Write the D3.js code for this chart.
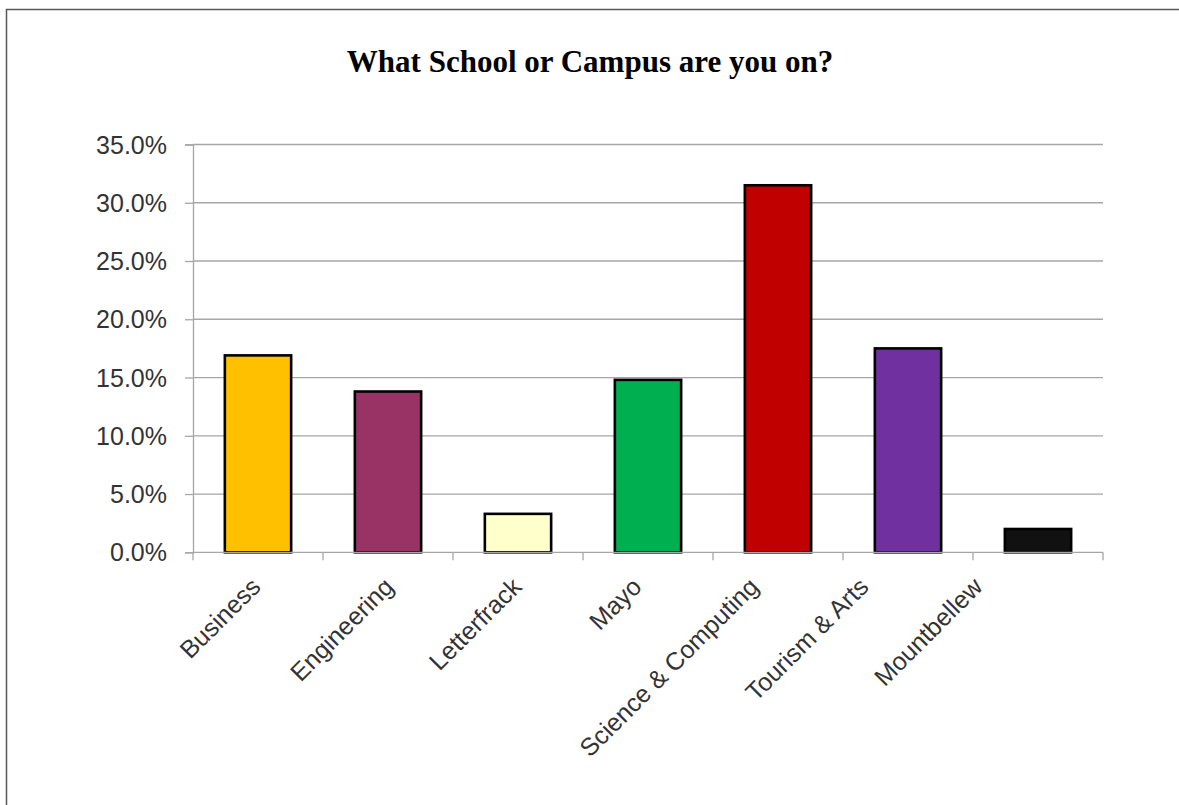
<!DOCTYPE html>
<html>
<head>
<meta charset="utf-8">
<script src="https://cdn.jsdelivr.net/npm/d3@7"></script>
<style>
  html, body { margin: 0; padding: 0; background: #fff; }
  svg { display: block; }
</style>
</head>
<body>
<svg id="chart" width="1179" height="805"></svg>
<script>
// Survey responses: share of respondents by school / campus (percent)
const categories = ["Business", "Engineering", "Letterfrack", "Mayo", "Science & Computing", "Tourism & Arts", "Mountbellew"];
const shares = [16.9, 13.8, 3.3, 14.8, 31.5, 17.5, 2.0];
const barColors = ["#FFC000", "#993366", "#FFFFCC", "#00B050", "#C00000", "#7030A0", "#111111"];
const yTicks = [0, 5, 10, 15, 20, 25, 30, 35];
const title = "What School or Campus are you on?";

// horizontal nudge (px) of each rotated category label's end point from its bar centre
const labelNudge = [4, 7, 5, -5, -18, -38, -54];

const svg = d3.select("#chart");
const W = 1179, H = 805;

// outer chart frame
svg.append("rect")
  .attr("x", 6.5).attr("y", 9.5)
  .attr("width", W + 20).attr("height", H + 20)
  .attr("fill", "#fff")
  .attr("stroke", "#595959")
  .attr("stroke-width", 1.5);

const plot = { left: 193, right: 1103, top: 144.5, bottom: 552.3 };

const x = d3.scaleBand()
  .domain(categories)
  .range([plot.left, plot.right])
  .paddingInner(0.49)
  .paddingOuter(0.245);

const y = d3.scaleLinear()
  .domain([0, 35])
  .range([plot.bottom, plot.top]);

// title
svg.append("text")
  .attr("x", 590).attr("y", 72)
  .attr("text-anchor", "middle")
  .attr("font-family", "'Liberation Serif', 'Times New Roman', serif")
  .attr("font-weight", "bold")
  .attr("font-size", 31)
  .attr("fill", "#000")
  .text(title);

// horizontal gridlines
svg.append("g")
  .selectAll("line")
  .data(yTicks.filter(d => d > 0))
  .join("line")
  .attr("x1", plot.left).attr("x2", plot.right)
  .attr("y1", d => y(d)).attr("y2", d => y(d))
  .attr("stroke", "#a6a6a6")
  .attr("stroke-width", 1.3);

// y axis
const yAxis = svg.append("g")
  .attr("transform", `translate(${plot.left},0)`)
  .call(d3.axisLeft(y).tickValues(yTicks).tickSize(8).tickPadding(18)
    .tickFormat(d => d.toFixed(1) + "%"));
yAxis.select(".domain").attr("stroke", "#a6a6a6").attr("stroke-width", 1.3);
yAxis.selectAll(".tick line").attr("stroke", "#a6a6a6").attr("stroke-width", 1.3);
yAxis.selectAll(".tick text")
  .attr("font-family", "'Liberation Sans', Arial, sans-serif")
  .attr("font-size", 25)
  .attr("fill", "#333")
  .attr("dy", "0.34em");

// bars
svg.append("g")
  .selectAll("rect")
  .data(categories)
  .join("rect")
  .attr("x", d => x(d))
  .attr("width", x.bandwidth())
  .attr("y", (d, i) => y(shares[i]))
  .attr("height", (d, i) => y(0) - y(shares[i]))
  .attr("fill", (d, i) => barColors[i])
  .attr("stroke", "#000")
  .attr("stroke-width", 2.6);

// x axis baseline with ticks at category boundaries
const xg = svg.append("g");
xg.append("line")
  .attr("x1", plot.left).attr("x2", plot.right)
  .attr("y1", y(0)).attr("y2", y(0))
  .attr("stroke", "#a6a6a6").attr("stroke-width", 1.3);
const boundaries = categories.map(d => x(d) - (x.step() - x.bandwidth()) / 2).concat([plot.right]);
xg.selectAll("line.tick")
  .data(boundaries)
  .join("line")
  .attr("class", "tick")
  .attr("x1", d => d).attr("x2", d => d)
  .attr("y1", y(0)).attr("y2", y(0) + 8)
  .attr("stroke", "#a6a6a6").attr("stroke-width", 1.3);

// rotated category labels
xg.selectAll("text")
  .data(categories)
  .join("text")
  .attr("transform", (d, i) => `translate(${x(d) + x.bandwidth() / 2 + labelNudge[i]},${y(0) + 36}) rotate(-45)`)
  .attr("text-anchor", "end")
  .attr("font-family", "'Liberation Sans', Arial, sans-serif")
  .attr("font-size", 25)
  .attr("fill", "#333")
  .text(d => d);
</script>
</body>
</html>
